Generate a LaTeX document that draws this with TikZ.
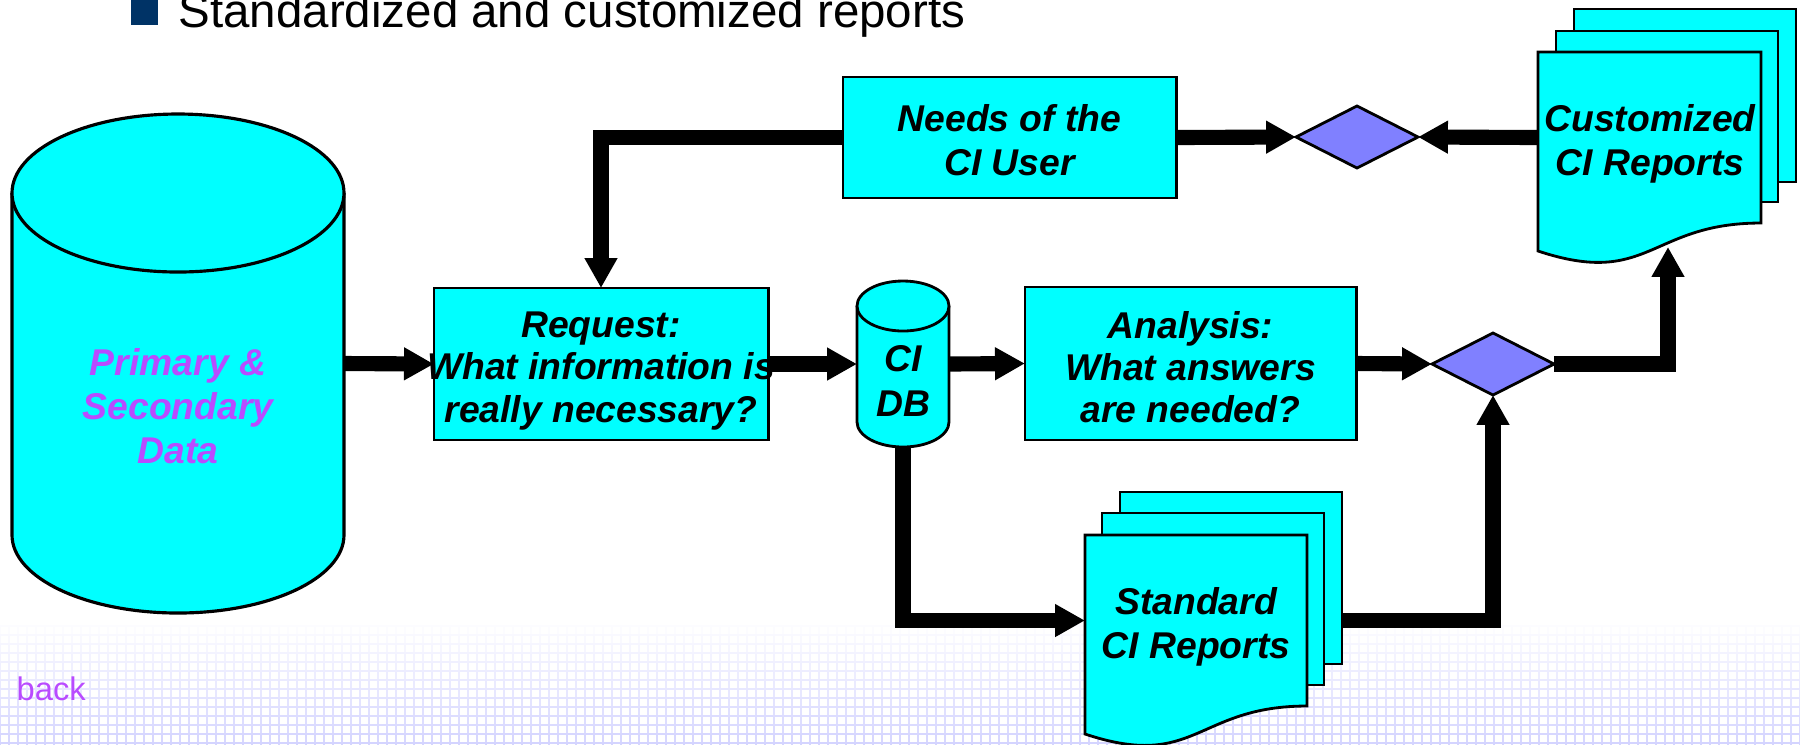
\documentclass[tikz,border=0pt]{standalone}
\usepackage{fontspec}
\setmainfont{Liberation Sans}
\usetikzlibrary{arrows.meta,shapes.geometric}
\definecolor{boxcyan}{RGB}{0,255,255}
\definecolor{dia}{RGB}{128,128,255}
\definecolor{navy}{RGB}{0,51,102}
\definecolor{purp}{RGB}{185,75,255}
\definecolor{lav}{RGB}{212,212,255}
\begin{document}
\begin{tikzpicture}[x=0.01cm,y=-0.01cm,
  lbl/.style={font=\fontsize{10.6}{12.6}\selectfont\bfseries\itshape, align=center, text=black, inner sep=0pt, text depth=0pt},
  lbltight/.style={lbl, font=\fontsize{10.6}{12.0}\selectfont\bfseries\itshape},
  boxn/.style={draw=black, line width=0.8pt, fill=boxcyan, inner sep=0pt, outer sep=0pt},
  hold/.style={inner sep=0pt, outer sep=0pt, draw=none},
  shp/.style={draw=black, line width=0.8pt, fill=boxcyan},
  arr/.style={line width=4.3pt, -{Triangle[width=8.8pt,length=8.5pt]}, line join=miter},
  dmd/.style={diamond, draw=black, line width=0.8pt, fill=dia, inner sep=0pt, outer sep=0pt, minimum width=1.22cm, minimum height=0.62cm},
  ]
\useasboundingbox (0,0) rectangle (1800,744);
% background grid
\foreach \i in {0,...,14}{
  \pgfmathtruncatemacro\p{100*\i/14}
  \pgfmathsetmacro\yy{617+9*\i}
  \draw[lav!\p!white, line width=0.6pt] (0,\yy) -- (1800,\yy);
  \draw[lav!\p!white, line width=0.6pt] \foreach \x in {0,9,...,1800}{(\x,\yy) -- (\x,\yy+9)};
}
% title
\node[fill=navy, inner sep=0pt, minimum width=0.27cm, minimum height=0.26cm, anchor=north west] (bullet) at (130,-2) {};
\node[anchor=base west, font=\fontsize{13.5}{16}\selectfont, inner sep=0pt] (title) at (178,27) {Standardized and customized reports};
% big cylinder
\path[shp, line width=0.9pt] (12,193) -- (12,535) arc[start angle=180, end angle=0, x radius=166, y radius=78] -- (344,193);
\path[shp, line width=0.9pt] (178,193) ellipse[x radius=166, y radius=79];
\node[hold, minimum width=3.32cm, minimum height=4.99cm] (data) at (178,363.5) {};
\node[lbl, text=purp] (datatxt) at (178,406) {Primary \&\\Secondary\\Data};
% CI DB cylinder
\path[shp] (857,306) -- (857,422) arc[start angle=180, end angle=0, x radius=46, y radius=25] -- (949,306);
\path[shp] (903,306) ellipse[x radius=46, y radius=25];
\node[hold, minimum width=0.92cm, minimum height=1.66cm] (db) at (903,364) {};
\node[lbl] (dbtxt) at (903,381) {CI\\DB};
% boxes
\node[boxn, minimum width=3.34cm, minimum height=1.52cm] (req) at (601,364) {};
\node[lbltight] (reqtxt) at (601,367) {Request:\\What information is\\really necessary?};
\node[boxn, minimum width=3.31cm, minimum height=1.53cm] (ana) at (1190.5,363.5) {};
\node[lbltight] (anatxt) at (1190.5,367) {Analysis:\\What answers\\are needed?};
\node[boxn, minimum width=3.33cm, minimum height=1.21cm] (needs) at (1009.5,137.5) {};
\node[lbl] (needstxt) at (1009.5,140) {Needs of the\\CI User};
% diamonds
\node[dmd] (d1) at (1357,137) {};
\node[dmd] (d2) at (1493,364) {};
% customized reports
\path[shp] (1574,9) rectangle (1796,182);
\path[shp] (1556,31) rectangle (1778,202);
\path[shp] (1538,52) -- (1761,52) -- (1761,223) .. controls (1649.5,223) and (1649.5,288) .. (1538,251) -- cycle;
\node[hold, minimum width=2.23cm, minimum height=1.71cm] (cust) at (1649.5,137.5) {};
\node[lbl] (custtxt) at (1650,140) {Customized\\CI Reports};
\coordinate (custbot) at (1668,247);
% standard reports
\path[shp] (1120,492) rectangle (1342,664);
\node[hold, minimum width=2.22cm, minimum height=1.72cm] (stdb) at (1231,578) {};
\path[shp] (1102,513) rectangle (1324,685);
\path[shp] (1085,535) -- (1307,535) -- (1307,706) .. controls (1196,706) and (1196,771) .. (1085,734) -- cycle;
\node[hold, minimum width=2.22cm, minimum height=1.71cm] (std) at (1196,620.5) {};
\node[lbl] (stdtxt) at (1196,623) {Standard\\CI Reports};
% connectors
\draw[arr] (data.east) -- (req.west);
\draw[arr] (req.east) -- (db.west);
\draw[arr] (db.east) -- (ana.west);
\draw[arr] (ana.east) -- (d2.west);
\draw[arr] (d2.east) -| (custbot);
\draw[arr] (needs.west) -| (req.north);
\draw[arr] (needs.east) -- (d1.west);
\draw[arr] (cust.west) -- (d1.east);
\draw[arr] (db.south) |- (std.west);
\draw[arr] (stdb.east |- std.west) -| (d2.south);
% back link
\node[anchor=base west, text=purp, font=\fontsize{9.3}{11}\selectfont, inner sep=0pt] (back) at (16,700) {back};
\end{tikzpicture}
\end{document}
